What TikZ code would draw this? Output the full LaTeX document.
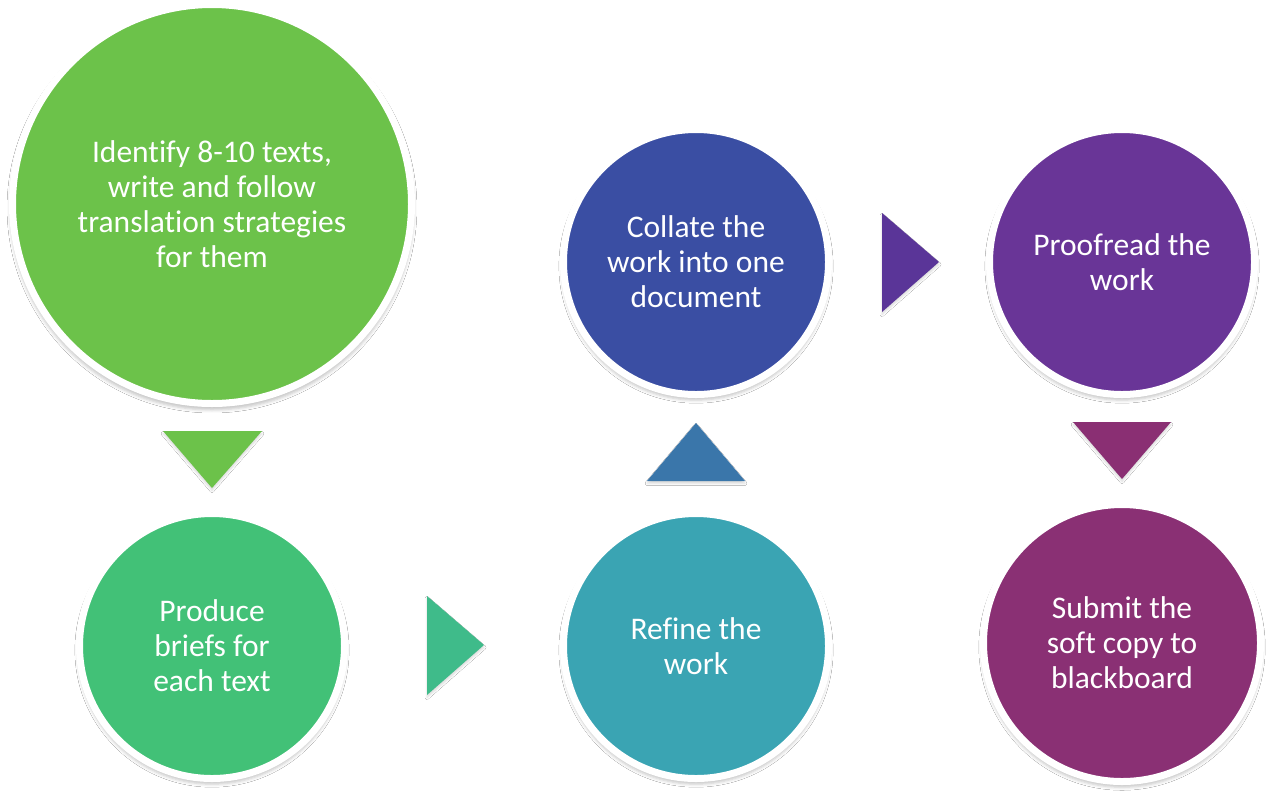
\documentclass[tikz,border=0pt]{standalone}
\usepackage{fontspec}
\setmainfont{Carlito}[RawFeature=-liga]
\usetikzlibrary{shadows,shadows.blur}
\definecolor{cA}{HTML}{6CC24A}
\definecolor{cB}{HTML}{42C177}
\definecolor{cC}{HTML}{3A4EA3}
\definecolor{cD}{HTML}{693597}
\definecolor{cE}{HTML}{3AA4B3}
\definecolor{cF}{HTML}{8A3074}
\definecolor{tA}{HTML}{6CC24A}
\definecolor{tB}{HTML}{3FBB8A}
\definecolor{tC}{HTML}{3A76AA}
\definecolor{tD}{HTML}{5A3598}
\definecolor{tE}{HTML}{8A2F73}
\tikzset{
  stepcircle/.style={circle, inner sep=0pt, draw=white, line width=7pt,
    text=white, align=center, font=\fontsize{31.5}{35}\selectfont,
    blur shadow={shadow xshift=0pt, shadow yshift=-4pt, shadow blur radius=3pt, shadow opacity=22, shadow scale=1.012}},
  arrowtri/.style={blur shadow={shadow xshift=0pt, shadow yshift=-2.5pt, shadow blur radius=2pt, shadow opacity=15}}
}
\begin{document}
\begin{tikzpicture}[x=1pt,y=-1pt]
\useasboundingbox (0,0) rectangle (1273,796);
\fill[white] (0,0) rectangle (1273,796);
% triangles
\fill[tA,arrowtri] (163,431) -- (262,431) -- (212,488) -- cycle;
\fill[tB,arrowtri] (427,596) -- (484,645) -- (427,695) -- cycle;
\fill[tC,arrowtri] (647,481) -- (696,423) -- (745,481) -- cycle;
\fill[tD,arrowtri] (882,213) -- (939,262) -- (882,312) -- cycle;
\fill[tE,arrowtri] (1073,422) -- (1171,422) -- (1122,479) -- cycle;
% circles
\node[stepcircle, fill=cA, minimum size=399pt] (s1) at (212,204) {Identify 8-10 texts,\\write and follow\\translation strategies\\for them};
\node[stepcircle, fill=cB, minimum size=265pt] (s2) at (212,646) {Produce\\briefs for\\each text};
\node[stepcircle, fill=cE, minimum size=265pt] (s3) at (696,646) {Refine the\\work};
\node[stepcircle, fill=cC, minimum size=265pt] (s4) at (696,262) {Collate the\\work into one\\document};
\node[stepcircle, fill=cD, minimum size=265pt] (s5) at (1122,262) {Proofread the\\work};
\node[stepcircle, fill=cF, minimum size=277pt] (s6) at (1122,643) {Submit the\\soft copy to\\blackboard};
\end{tikzpicture}
\end{document}
